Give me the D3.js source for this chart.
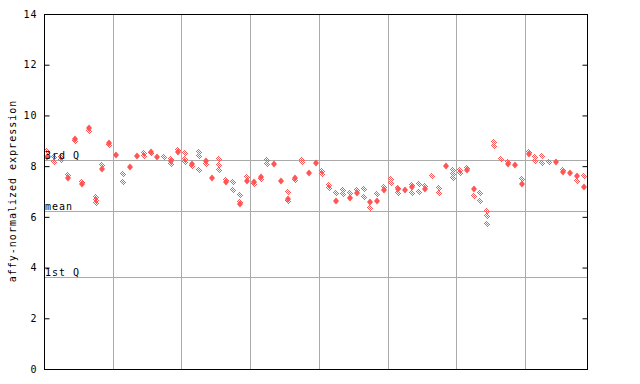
<!DOCTYPE html>
<html>
<head>
<meta charset="utf-8">
<script src="https://cdn.jsdelivr.net/npm/d3@7"></script>
<style>
  body { margin: 0; background: #fff; }
  text { font-family: "DejaVu Sans Mono", monospace; font-size: 10px; letter-spacing: 1px; }
</style>
</head>
<body>
<svg id="canvas" width="640" height="384"></svg>
<script>
// values, one entry per sample (79 samples)
let solidVals = [8.37, null, null, 7.55, 9.07, 7.28, 9.49, null, 7.88, 8.92,
    8.45, null, 7.97, 8.41, null, 8.57, 8.38, null, 8.2, 8.55,
    null, 8.1, null, 8.2, 7.52, null, 7.36, null, 6.52, 7.43,
    7.36, 7.56, null, 8.07, 7.42, 6.72, 7.52, null, 7.72, 8.14,
    null, null, 6.64, null, 6.76, 6.95, null, 6.6, 6.63, 7.06,
    null, 7.08, 7.06, 7.19, null, 7.08, null, null, 8.0, null,
    null, 7.85, 7.1, null, null, null, null, 8.08, 8.03, 7.28,
    8.47, null, null, null, 8.15, 7.77, 7.72, 7.62, 7.19]

let hatchVals = [[8.6], [8.37, 8.16], [8.38, 8.25], [7.65], [9.0], [7.36], [9.4], [6.77, 6.65, 6.53], [8.03], [8.85],
    [], [7.68, 7.37], [], [], [8.53, 8.41], [8.5], [], [8.38], [8.3, 8.1], [8.62],
    [8.5, 8.3, 8.15], [8.0], [8.57, 8.4, 7.85], [8.08], [], [8.27, 8.05, 7.85], [7.45], [7.37, 7.07], [6.85, 6.6], [7.56],
    [7.3], [7.48], [8.23, 8.08], [], [], [6.98, 6.62], [7.45], [8.25, 8.15], [], [],
    [7.8, 7.7], [7.26, 7.13], [6.93], [7.06, 6.9], [6.95], [7.06], [7.09, 6.77], [6.34], [6.9], [7.19],
    [7.48, 7.35], [7.13, 6.95], [], [7.26, 6.93], [7.3, 6.97], [7.21], [7.61], [7.13, 6.95], [], [7.85, 7.68, 7.52],
    [7.85, 7.72], [7.92], [6.83], [6.93, 6.63], [6.23, 6.05, 5.71], [8.96, 8.79], [8.27], [8.18], [], [7.48],
    [8.55], [8.35, 8.2], [8.4, 8.11], [8.15], [], [7.85], [], [7.4], [7.61]]

let yTicks = [0, 2, 4, 6, 8, 10, 12, 14]
let refNames = ['3rd Q', 'mean', '1st Q']
let refVals = [8.23, 6.23, 3.62]
let gridEvery = 10

let canvas = d3.select('#canvas')
let margin = {left: 44, top: 14, right: 53, bottom: 15}
let W = 640 - margin.left - margin.right
let H = 384 - margin.top - margin.bottom
let red = '#ff5555'

let x = d3.scaleBand().domain(d3.range(solidVals.length)).range([0, W])
let y = d3.scaleLinear().domain([0, 14]).range([H, 0])

// checkerboard fill for the hatched markers
let pat = canvas.append('defs').append('pattern')
    .attr('id', 'checker')
    .attr('width', 2).attr('height', 2)
    .attr('patternUnits', 'userSpaceOnUse')
pat.append('rect').attr('x', 0).attr('y', 0).attr('width', 1).attr('height', 1).attr('fill', red)
pat.append('rect').attr('x', 1).attr('y', 1).attr('width', 1).attr('height', 1).attr('fill', red)

let g = canvas.append('g').attr('transform', 'translate(' + margin.left + ',' + margin.top + ')')

// vertical grid every 10 samples
let gridIdx = d3.range(gridEvery, solidVals.length, gridEvery)
g.selectAll('.vgrid').data(gridIdx).enter().append('line')
    .attr('x1', (d) => Math.round(x(d)) + 0.5)
    .attr('x2', (d) => Math.round(x(d)) + 0.5)
    .attr('y1', 0).attr('y2', H)
    .attr('stroke', '#aaaaaa')

// quartile / mean lines
g.selectAll('.ref').data(refVals).enter().append('line')
    .attr('x1', 0).attr('x2', W)
    .attr('y1', (d) => Math.round(y(d)) + 0.5)
    .attr('y2', (d) => Math.round(y(d)) + 0.5)
    .attr('stroke', '#aaaaaa')

let diamond = 'M0,-3.5L3,0L0,3.5L-3,0Z'

// hatched markers
let hatchPts = []
hatchVals.forEach((arr, i) => {
    arr.forEach((v) => hatchPts.push({i: i, v: v}))
})
g.selectAll('.hatch').data(hatchPts).enter().append('path')
    .attr('d', diamond)
    .attr('transform', (d) => 'translate(' + Math.round(x(d.i) + x.bandwidth() / 2) + ',' + Math.round(y(d.v)) + ')')
    .attr('fill', 'url(#checker)')
    .attr('shape-rendering', 'crispEdges')

// solid markers
let solidPts = solidVals.map((v, i) => ({i: i, v: v})).filter((d) => d.v !== null)
g.selectAll('.solid').data(solidPts).enter().append('path')
    .attr('d', diamond)
    .attr('transform', (d) => 'translate(' + Math.round(x(d.i) + x.bandwidth() / 2) + ',' + Math.round(y(d.v)) + ')')
    .attr('fill', red)

// labels for reference lines
g.selectAll('.refLabel').data(refVals).enter().append('text')
    .attr('x', 1)
    .attr('y', (d) => Math.round(y(d)) - 1)
    .text((d, i) => refNames[i])

// axes: ticks point inward
let yAxisL = d3.axisLeft(y).tickValues(yTicks).tickSize(-5).tickPadding(7)
let yAxisR = d3.axisRight(y).tickValues(yTicks).tickSize(-5).tickFormat('')
let la = g.append('g').attr('transform', 'translate(0.5,0)').call(yAxisL)
let ra = g.append('g').attr('transform', 'translate(' + (W + 0.5) + ',0)').call(yAxisR)
;[la, ra].forEach((a) => {
    a.select('.domain').remove()
    a.selectAll('line').attr('stroke', '#000')
    a.selectAll('text').attr('fill', '#000').style('font-size', '10px')
        .style('font-family', '"DejaVu Sans Mono", monospace')
})

// frame
g.append('rect')
    .attr('x', 0.5).attr('y', 0.5)
    .attr('width', W).attr('height', H)
    .attr('fill', 'none').attr('stroke', '#000')

canvas.append('text')
    .attr('transform', 'translate(16,191) rotate(-90)')
    .attr('text-anchor', 'middle')
    .text('affy-normalized expression')
</script>
</body>
</html>
